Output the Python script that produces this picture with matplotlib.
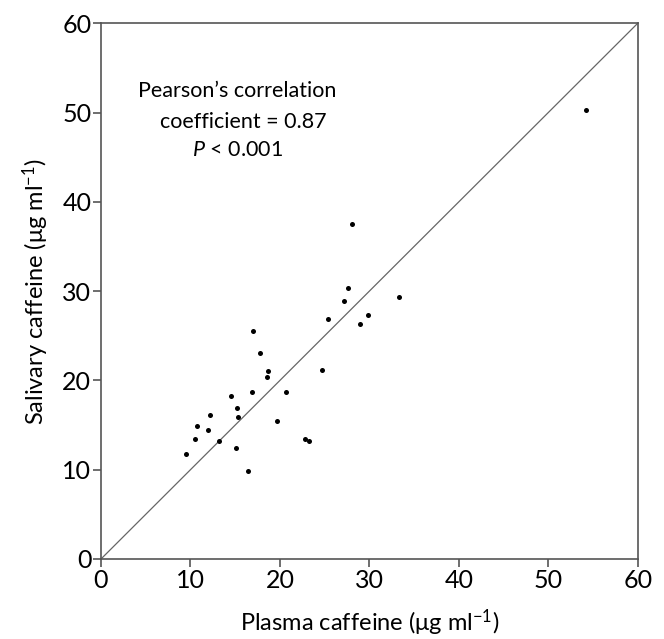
import matplotlib
matplotlib.use("Agg")
import matplotlib.pyplot as plt

plasma = [9.51, 10.51, 10.70, 11.97, 12.23, 13.20, 14.54, 15.25, 15.32, 15.07,
          16.92, 16.44, 19.72, 17.04, 17.82, 18.65, 18.57, 20.66, 22.82, 23.27,
          24.76, 25.43, 27.18, 27.66, 28.11, 28.94, 29.90, 33.37, 54.22]
saliva = [11.72, 13.40, 14.89, 14.45, 16.09, 13.18, 18.25, 16.88, 15.90, 12.40,
          18.67, 9.85, 15.49, 25.53, 23.03, 21.02, 20.38, 18.74, 13.40, 13.21,
          21.16, 26.91, 28.86, 30.31, 37.48, 26.35, 27.32, 29.37, 50.28]
ticks = [0, 10, 20, 30, 40, 50, 60]
identity = [0, 60]

plt.rcParams['font.family'] = ['Lato', 'DejaVu Sans']
plt.rcParams['mathtext.fontset'] = 'custom'
plt.rcParams['mathtext.rm'] = 'Lato'
plt.rcParams['mathtext.it'] = 'Lato:italic'

fig = plt.figure(figsize=(6.64, 6.39), dpi=100)
ax = fig.add_axes([101/664, 1-559/639, (637.7-101)/664, (559-23.3)/639])

ax.plot(identity, identity, color='#666666', lw=0.9, zorder=1)
ax.scatter(plasma, saliva, s=13, color='black', zorder=2, linewidths=0)

ax.set_xlim(0, 60)
ax.set_ylim(0, 60)
ax.set_xticks(ticks)
ax.set_yticks(ticks)
for sp in ax.spines.values():
    sp.set_color('#555555')
    sp.set_linewidth(1.2)
ax.tick_params(direction='out', length=6, width=1.2, color='#555555',
               labelsize=18, pad=1)

ax.set_xlabel('Plasma caffeine (μg ml$^{-1}$)', fontsize=17, labelpad=11)
ax.set_ylabel('Salivary caffeine (μg ml$^{-1}$)', fontsize=17, labelpad=8)

ax.text(15.2, 52.4, "Pearson’s correlation", fontsize=15.5, ha='center', va='center')
ax.text(15.9, 49.0, "coefficient = 0.87", fontsize=15.5, ha='center', va='center')
ax.text(15.2, 45.8, "$\\mathit{P}$ < 0.001", fontsize=15.5, ha='center', va='center')

fig.savefig('out.png', dpi=100)
